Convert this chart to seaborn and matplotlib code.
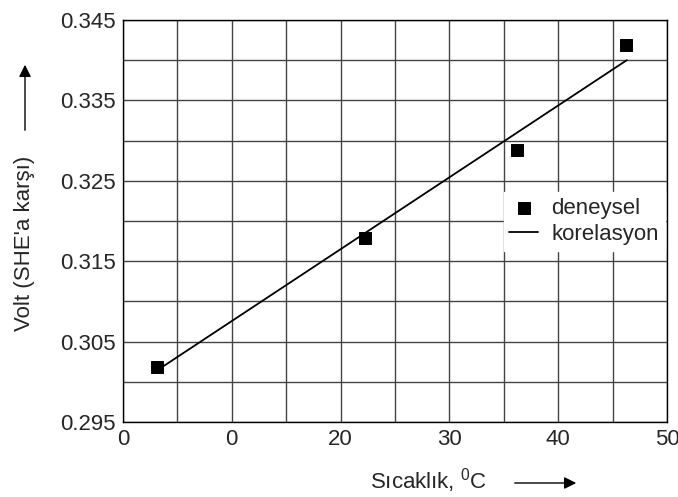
import seaborn as sns
import matplotlib.pyplot as plt
import pandas as pd

# deney verileri
sicaklik = [3.1, 22.2, 36.2, 46.2]
volt = [0.3019, 0.3179, 0.3288, 0.3419]

# korelasyon doğrusu uç noktaları
kor_x = [3.0, 46.3]
kor_y = [0.3013, 0.3400]

x_ticks = [0, 5, 10, 15, 20, 25, 30, 35, 40, 45, 50]
x_labels = ['0', '', '0', '', '20', '', '30', '', '40', '', '50']
y_ticks = [0.295, 0.300, 0.305, 0.310, 0.315, 0.320, 0.325, 0.330, 0.335, 0.340, 0.345]
y_labels = ['0.295', '', '0.305', '', '0.315', '', '0.325', '', '0.335', '', '0.345']

sns.set_style('white')
plt.rcParams['font.family'] = ['Liberation Sans', 'DejaVu Sans']
plt.rcParams['mathtext.fontset'] = 'custom'
plt.rcParams['mathtext.rm'] = 'Liberation Sans'

fs = 16

df = pd.DataFrame({'Sicaklik': sicaklik, 'Volt': volt})
kor = pd.DataFrame({'x': kor_x, 'y': kor_y})

fig = plt.figure(figsize=(6.78, 4.97), dpi=100)
ax = fig.add_axes([0.1814, 0.1509, 0.8024, 0.8089])

sns.lineplot(x='x', y='y', data=kor, color='black', linewidth=1.3, ax=ax, label='korelasyon')
sns.scatterplot(x='Sicaklik', y='Volt', data=df, color='black', marker='s', s=75,
                edgecolor='black', ax=ax, label='deneysel', zorder=3)

ax.set_xlim(0, 50)
ax.set_ylim(0.295, 0.345)
ax.set_xticks(x_ticks)
ax.set_xticklabels(x_labels)
ax.set_yticks(y_ticks)
ax.set_yticklabels(y_labels)
ax.tick_params(direction='inout', length=7, width=1, color='black', labelsize=fs, pad=1.5)
ax.grid(True, color='#444444', linewidth=1)
for sp in ax.spines.values():
    sp.set_color('black')
    sp.set_linewidth(1)
ax.set_xlabel('')
ax.set_ylabel('')

# lejant
h, l = ax.get_legend_handles_labels()
leg = ax.legend([h[1], h[0]], [l[1], l[0]], loc='upper left', bbox_to_anchor=(0.70, 0.572),
                fontsize=fs, frameon=True, fancybox=False, framealpha=1, edgecolor='white',
                handlelength=1.3, handletextpad=0.6, labelspacing=0.25, borderpad=0.25,
                borderaxespad=0, markerscale=1.0)

# eksen başlıkları ve oklar
fig.text(25 / 678, 1 - 243 / 497, "Volt (SHE'a karşı)", rotation=90, fontsize=fs,
         ha='center', va='center')
ax.annotate('', xy=(25 / 678, 1 - 62 / 497), xytext=(25 / 678, 1 - 133 / 497),
            xycoords='figure fraction',
            arrowprops=dict(arrowstyle='-|>', color='black', lw=1, mutation_scale=18))
fig.text(428 / 678, 1 - 481 / 497, 'Sıcaklık, $^\\mathregular{0}$C', fontsize=fs,
         ha='center', va='center')
ax.annotate('', xy=(579 / 678, 1 - 483 / 497), xytext=(512 / 678, 1 - 483 / 497),
            xycoords='figure fraction',
            arrowprops=dict(arrowstyle='-|>', color='black', lw=1, mutation_scale=18))

plt.savefig('out.png', dpi=100)
